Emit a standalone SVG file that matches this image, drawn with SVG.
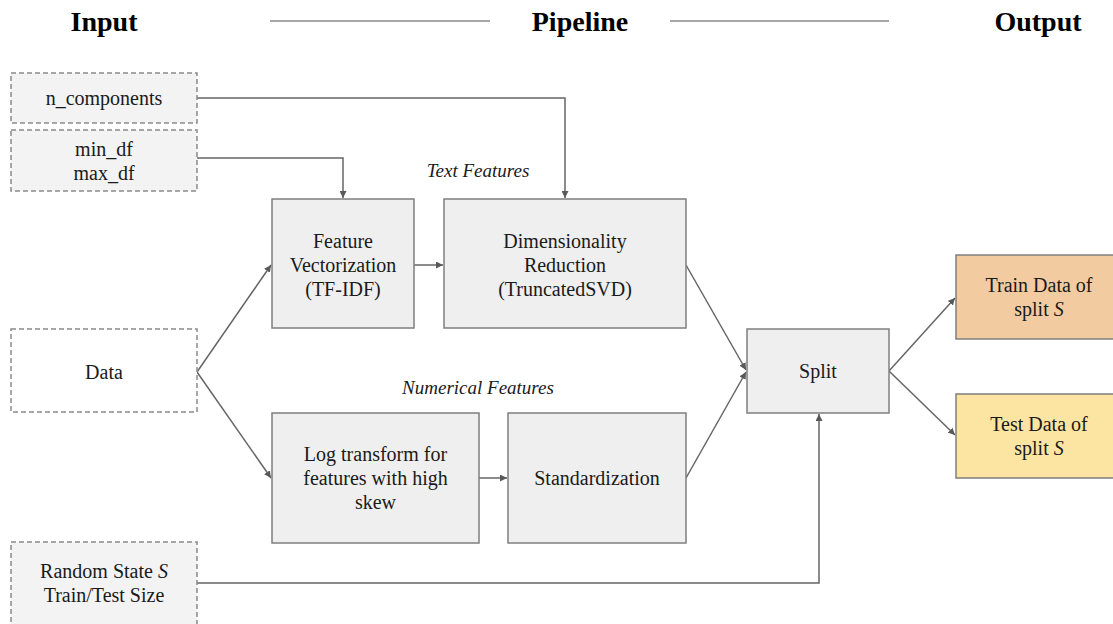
<svg xmlns="http://www.w3.org/2000/svg" width="1113" height="624" viewBox="0 0 1113 624" font-family="'Liberation Serif', 'Nimbus Roman', 'Nimbus Roman No9 L', 'Noto Serif', FreeSerif, Times, 'DejaVu Serif', serif">
  <defs>
    <marker id="arrow" viewBox="0 0 10 10" refX="10" refY="5" markerWidth="7" markerHeight="7" markerUnits="userSpaceOnUse" orient="auto">
      <path d="M0,0 L10,5 L0,10 z" fill="#595959"/>
    </marker>
    <style>
      text { fill: #1a1a1a; }
      .title { font-size: 28px; font-weight: bold; text-anchor: middle; fill: #000; }
      .label { font-size: 20px; text-anchor: middle; }
      .section { font-size: 19px; font-style: italic; text-anchor: middle; }
      .param { fill: #f3f3f3; stroke: #8a8a8a; stroke-width: 1.5; stroke-dasharray: 5 3; }
      .data { fill: #ffffff; stroke: #8a8a8a; stroke-width: 1.5; stroke-dasharray: 5 3; }
      .step { fill: #efefef; stroke: #7f7f7f; stroke-width: 1.5; }
      .train { fill: #f2cca0; stroke: #7f7f7f; stroke-width: 1.5; }
      .test { fill: #fce4a2; stroke: #7f7f7f; stroke-width: 1.5; }
      .edge { fill: none; stroke: #666666; stroke-width: 1.5; }
      .rule { stroke: #888888; stroke-width: 1.5; }
      .it { font-style: italic; }
    </style>
  </defs>

  <!-- column headers -->
  <g id="headers">
    <text class="title" x="104" y="31">Input</text>
    <line class="rule" x1="270" y1="21" x2="490" y2="21"/>
    <text class="title" x="580" y="31">Pipeline</text>
    <line class="rule" x1="670" y1="21" x2="889" y2="21"/>
    <text class="title" x="1038" y="31">Output</text>
  </g>

  <!-- section captions -->
  <text class="section" x="478" y="177">Text Features</text>
  <text class="section" x="478" y="394">Numerical Features</text>

  <!-- connectors -->
  <g id="connectors">
    <polyline class="edge" points="197,98 565,98 565,198" marker-end="url(#arrow)"/>
    <polyline class="edge" points="197,158 343,158 343,198" marker-end="url(#arrow)"/>
    <line class="edge" x1="197" y1="372" x2="271" y2="265" marker-end="url(#arrow)"/>
    <line class="edge" x1="197" y1="372" x2="271" y2="478" marker-end="url(#arrow)"/>
    <line class="edge" x1="414" y1="265" x2="443" y2="265" marker-end="url(#arrow)"/>
    <line class="edge" x1="479" y1="478" x2="507" y2="478" marker-end="url(#arrow)"/>
    <line class="edge" x1="686" y1="265" x2="746" y2="370" marker-end="url(#arrow)"/>
    <line class="edge" x1="686" y1="478" x2="746" y2="372" marker-end="url(#arrow)"/>
    <line class="edge" x1="889" y1="371" x2="955" y2="298" marker-end="url(#arrow)"/>
    <line class="edge" x1="889" y1="371" x2="955" y2="435" marker-end="url(#arrow)"/>
    <polyline class="edge" points="197,583 819,583 819,414" marker-end="url(#arrow)"/>
  </g>

  <!-- input parameters -->
  <g id="n_components">
    <rect class="param" x="11" y="73" width="186" height="50"/>
    <text class="label" x="104" y="105">n_components</text>
  </g>
  <g id="df_bounds">
    <rect class="param" x="11" y="130" width="186" height="61"/>
    <text class="label" x="104" y="156">min_df</text>
    <text class="label" x="104" y="180">max_df</text>
  </g>
  <g id="data">
    <rect class="data" x="11" y="329" width="186" height="83"/>
    <text class="label" x="104" y="379">Data</text>
  </g>
  <g id="split_params">
    <rect class="param" x="11" y="542" width="186" height="90"/>
    <text class="label" x="104" y="578">Random State <tspan class="it">S</tspan></text>
    <text class="label" x="104" y="602">Train/Test Size</text>
  </g>

  <!-- text feature branch -->
  <g id="vectorization">
    <rect class="step" x="272" y="199" width="142" height="129"/>
    <text class="label" x="343" y="248">Feature</text>
    <text class="label" x="343" y="272">Vectorization</text>
    <text class="label" x="343" y="296">(TF-IDF)</text>
  </g>
  <g id="reduction">
    <rect class="step" x="444" y="199" width="242" height="129"/>
    <text class="label" x="565" y="248">Dimensionality</text>
    <text class="label" x="565" y="272">Reduction</text>
    <text class="label" x="565" y="296">(TruncatedSVD)</text>
  </g>

  <!-- numerical feature branch -->
  <g id="log_transform">
    <rect class="step" x="272" y="413" width="207" height="130"/>
    <text class="label" x="375.5" y="461">Log transform for</text>
    <text class="label" x="375.5" y="485">features with high</text>
    <text class="label" x="375.5" y="509">skew</text>
  </g>
  <g id="standardization">
    <rect class="step" x="508" y="413" width="178" height="130"/>
    <text class="label" x="597" y="485">Standardization</text>
  </g>

  <!-- split and outputs -->
  <g id="split">
    <rect class="step" x="747" y="329" width="142" height="84"/>
    <text class="label" x="818" y="378">Split</text>
  </g>
  <g id="train_data">
    <rect class="train" x="956" y="255" width="166" height="84"/>
    <text class="label" x="1039" y="292">Train Data of</text>
    <text class="label" x="1039" y="316">split <tspan class="it">S</tspan></text>
  </g>
  <g id="test_data">
    <rect class="test" x="956" y="394" width="166" height="84"/>
    <text class="label" x="1039" y="431">Test Data of</text>
    <text class="label" x="1039" y="455">split <tspan class="it">S</tspan></text>
  </g>
</svg>
